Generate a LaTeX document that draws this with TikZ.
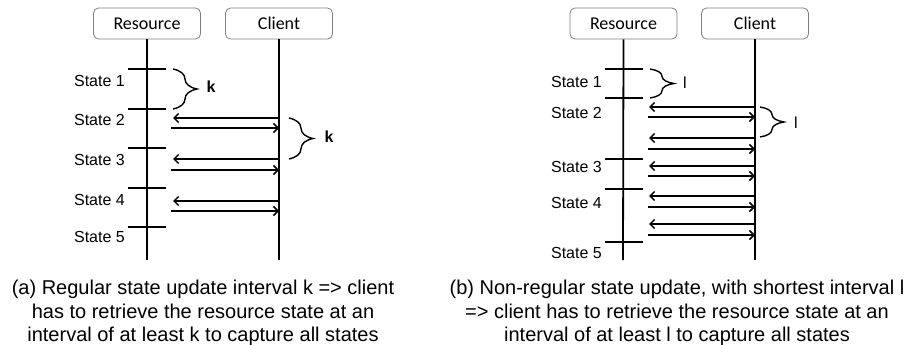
\documentclass[tikz,border=0pt]{standalone}
\usepackage{fontspec}
\setmainfont{Liberation Sans}
\newfontfamily\calibri{Carlito}
\usetikzlibrary{arrows.meta,decorations.pathreplacing}
\begin{document}
\begin{tikzpicture}[x=1pt,y=-1pt,
 hdr/.style={draw=black!50, rounded corners=5pt, line width=0.8pt, minimum width=107pt, minimum height=31pt, font=\calibri\fontsize{18}{21}\selectfont, inner sep=0pt, fill=white},
 life/.style={line width=1.8pt},
 tickmark/.style={line width=1.8pt},
 msg/.style={line width=1.5pt, -{Straight Barb[length=4.5pt,width=9pt]}},
 st/.style={anchor=east, font=\fontsize{16}{19}\selectfont, inner sep=0pt},
 brc/.style={decorate, decoration={brace, amplitude=24pt}, line width=1.4pt},
 blbl/.style={font=\fontsize{16}{19}\selectfont, inner sep=0pt},
 captxt/.style={align=center, font=\fontsize{20}{23.5}\selectfont, inner sep=0pt}
]
\useasboundingbox (0,0) rectangle (910,345);

% ---------- (a) ----------
\node[hdr] (resA) at (147,23.5) {Resource};
\node[hdr] (cliA) at (279,23.5) {Client};
\coordinate (resAend) at (147,260);
\coordinate (cliAend) at (279,260);
\draw[life] (resA.south) -- (resAend);
\draw[life] (cliA.south) -- (cliAend);

\foreach \y in {69,109,148,188,227} \draw[tickmark] (128,\y) -- (166,\y);

\foreach \y/\t in {81/1,120/2,160/3,200/4,237/5}
  \node[st] (sA\t) at (125,\y) {State \t};

\foreach \y [count=\i] in {118,159,201} {
  \coordinate (aLc\i) at (279,\y);
  \coordinate (aLr\i) at (173,\y);
  \draw[msg] (aLc\i) -- (aLr\i);
}
\foreach \y [count=\i] in {128,170,211} {
  \coordinate (aRr\i) at (171,\y);
  \coordinate (aRc\i) at (279,\y);
  \draw[msg] (aRr\i) -- (aRc\i);
}

\coordinate (bA1t) at (173,69);
\coordinate (bA1b) at (173,109);
\draw[brc] (bA1t) -- (bA1b);
\node[blbl, font=\fontsize{16}{19}\selectfont\bfseries] (kA1) at (211,87) {k};
\coordinate (bA2t) at (289,118);
\coordinate (bA2b) at (289,159);
\draw[brc] (bA2t) -- (bA2b);
\node[blbl, font=\fontsize{16}{19}\selectfont\bfseries] (kA2) at (329,137) {k};

\node[captxt] (capA) at (203,313) {(a) Regular state update interval k => client\\has to retrieve the resource state at an\\interval of at least k to capture all states};

% ---------- (b) ----------
\node[hdr] (resB) at (623.5,23.5) {Resource};
\node[hdr] (cliB) at (755,23.5) {Client};
\coordinate (resBend) at (623,260);
\coordinate (cliBend) at (755,260);
\draw[life] (resB.south) -- (resBend);
\draw[life] (cliB.south) -- (cliBend);

\foreach \y in {69,98,159,189,242} \draw[tickmark] (605,\y) -- (643,\y);

\foreach \y/\t in {82/1,113/2,167/3,203/4,253/5}
  \node[st] (sB\t) at (602,\y) {State \t};

\foreach \y [count=\i] in {107,138,166,196,224} {
  \coordinate (bLc\i) at (755,\y);
  \coordinate (bLr\i) at (649,\y);
  \draw[msg] (bLc\i) -- (bLr\i);
}
\foreach \y [count=\i] in {117,149,176,207,235} {
  \coordinate (bRr\i) at (648,\y);
  \coordinate (bRc\i) at (755,\y);
  \draw[msg] (bRr\i) -- (bRc\i);
}

\coordinate (bB1t) at (650,69);
\coordinate (bB1b) at (650,98);
\draw[brc] (bB1t) -- (bB1b);
\node[blbl] (lB1) at (685,83) {l};
\coordinate (bB2t) at (760,107);
\coordinate (bB2b) at (760,137);
\draw[brc] (bB2t) -- (bB2b);
\node[blbl] (lB2) at (796,123) {l};

\node[captxt] (capB) at (677,313) {(b) Non-regular state update, with shortest interval l\\=> client has to retrieve the resource state at an\\interval of at least l to capture all states};
\end{tikzpicture}
\end{document}
